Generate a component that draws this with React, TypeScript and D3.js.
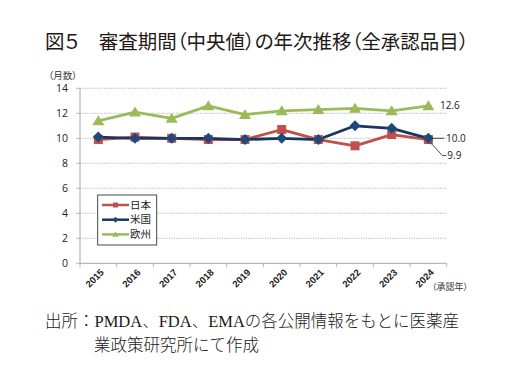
import React from "react";
import * as d3 from "d3";

const years = ["2015","2016","2017","2018","2019","2020","2021","2022","2023","2024"];
const japan = [9.9, 10.1, 10.0, 9.9, 9.9, 10.7, 9.9, 9.4, 10.3, 9.9];
const usa = [10.1, 10.0, 10.0, 10.0, 9.9, 10.0, 9.9, 11.0, 10.8, 10.0];
const europe = [11.4, 12.1, 11.6, 12.6, 11.9, 12.2, 12.3, 12.4, 12.2, 12.6];
const yTicks = [0, 2, 4, 6, 8, 10, 12, 14];
const seriesNames = ["日本", "米国", "欧州"];
const title = "図５　審査期間（中央値）の年次推移（全承認品目）";
const sourceLine1 = "出所：PMDA、FDA、EMAの各公開情報をもとに医薬産";
const sourceLine2 = "業政策研究所にて作成";

const colors = ["#C0504D", "#1F497D", "#9BBB59"];
const lineColors = ["#C0504D", "#17375E", "#9BBB59"];

export default function App() {
  const left = 80, right = 446.7, top = 88.3, bottom = 263.3;
  const x = d3.scaleBand<string>().domain(years).range([left, right]);
  const y = d3.scaleLinear().domain([0, 14]).range([bottom, top]);
  const cx = (i: number) => (x(years[i]) as number) + x.bandwidth() / 2;
  const line = d3.line<number>().x((_, i) => cx(i)).y((d) => y(d));
  const series = [japan, usa, europe];

  const marker = (k: number, px: number, py: number, key: string, s = 1) => {
    if (k === 0) {
      const h = 4.5 * s;
      return <rect key={key} x={px - h} y={py - h} width={2 * h} height={2 * h} fill={colors[0]} />;
    }
    if (k === 1) {
      const h = 5.5 * s;
      return <path key={key} d={`M${px},${py - h}L${px + h},${py}L${px},${py + h}L${px - h},${py}Z`} fill={colors[1]} />;
    }
    const h = 5.5 * s;
    return <path key={key} d={`M${px},${py - h}L${px + h * 1.1},${py + h * 0.8}L${px - h * 1.1},${py + h * 0.8}Z`} fill={colors[2]} />;
  };

  const last = years.length - 1;
  const lx = cx(last);
  const font = "'Noto Sans CJK JP', 'Noto Sans', sans-serif";
  const serifFont = "'Liberation Serif', 'Noto Sans CJK JP', serif";

  return (
    <svg width={516} height={386} style={{ position: "absolute", left: 0, top: 0, background: "#fff" }}>
      <text x={45} y={49} fontSize={19.5} fontFamily={font} fill="#231815" style={{ fontFeatureSettings: "'palt'" }}>{title}</text>
      <text x={77} y={79} fontSize={9.5} fontFamily={font} textAnchor="end" fill="#333" style={{ fontFeatureSettings: "'palt'" }}>（月数）</text>
      {yTicks.map((t) => (
        <g key={t}>
          {t > 0 && (
            <line x1={left} x2={right} y1={y(t)} y2={y(t)} stroke="#A6A6A6" strokeWidth={0.8} strokeDasharray="1.2,1.2" />
          )}
          <line x1={left - 4} x2={left} y1={y(t)} y2={y(t)} stroke="#A6A6A6" strokeWidth={0.8} />
          <text x={68} y={y(t)} dy="0.35em" fontSize={10.5} fontFamily="'Open Sans', sans-serif" textAnchor="end" fill="#222">{t}</text>
        </g>
      ))}
      <line x1={left} x2={left} y1={top} y2={bottom} stroke="#A6A6A6" strokeWidth={1} />
      <line x1={left} x2={right} y1={bottom} y2={bottom} stroke="#A6A6A6" strokeWidth={1} />
      {years.map((yr, i) => (
        <g key={yr}>
          <line x1={x(yr) as number} x2={x(yr) as number} y1={bottom} y2={bottom + 4} stroke="#A6A6A6" strokeWidth={0.8} />
          <text
            transform={`translate(${cx(i) + 1.5},${bottom + 5}) rotate(-45)`}
            fontSize={9.5}
            fontWeight={700}
            fontFamily="'Liberation Sans', sans-serif"
            textAnchor="end"
            dy="0.7em"
            fill="#222"
          >{yr}</text>
        </g>
      ))}
      <line x1={right} x2={right} y1={bottom} y2={bottom + 4} stroke="#A6A6A6" strokeWidth={0.8} />
      <text x={432} y={290} fontSize={9} fontFamily={font} fill="#333" style={{ fontFeatureSettings: "'palt'" }}>（承認年）</text>

      {series.map((s, k) => (
        <path key={k} d={line(s) || ""} fill="none" stroke={lineColors[k]} strokeWidth={2.8} strokeLinejoin="round" />
      ))}
      {series.map((s, k) => s.map((v, i) => marker(k, cx(i), y(v), `m${k}-${i}`)))}

      {/* data labels */}
      <text x={440} y={y(europe[last])} dy="0.35em" fontSize={10} fontFamily="'Open Sans', sans-serif" fill="#222">12.6</text>
      <line x1={lx + 5} x2={444} y1={y(usa[last])} y2={y(usa[last])} stroke="#222" strokeWidth={0.8} />
      <text x={446} y={y(usa[last])} dy="0.35em" fontSize={10} fontFamily="'Open Sans', sans-serif" fill="#222">{usa[last].toFixed(1)}</text>
      <polyline points={`${lx + 2},${y(japan[last]) + 3} ${lx + 14},${y(japan[last]) + 16} ${lx + 18},${y(japan[last]) + 16}`} fill="none" stroke="#222" strokeWidth={0.8} />
      <text x={lx + 19} y={y(japan[last]) + 16} dy="0.35em" fontSize={10} fontFamily="'Open Sans', sans-serif" fill="#222">{japan[last].toFixed(1)}</text>

      {/* legend */}
      <rect x={97.7} y={195} width={59} height={50} fill="#fff" stroke="#333" strokeWidth={0.9} />
      {seriesNames.map((n, k) => {
        const ly = 205 + k * 14.7;
        return (
          <g key={n}>
            <line x1={102} x2={129} y1={ly} y2={ly} stroke={lineColors[k]} strokeWidth={2.5} />
            {marker(k, 115.5, ly, `lg${k}`, 0.55)}
            <text x={130} y={ly} dy="0.36em" fontSize={10.5} fontFamily={font} fill="#222">{n}</text>
          </g>
        );
      })}

      <text x={45} y={327} fontSize={16.5} fontFamily={serifFont} fontWeight={300} fill="#231815">{sourceLine1}</text>
      <text x={94} y={351} fontSize={16.5} fontFamily={serifFont} fontWeight={300} fill="#231815">{sourceLine2}</text>
    </svg>
  );
}
